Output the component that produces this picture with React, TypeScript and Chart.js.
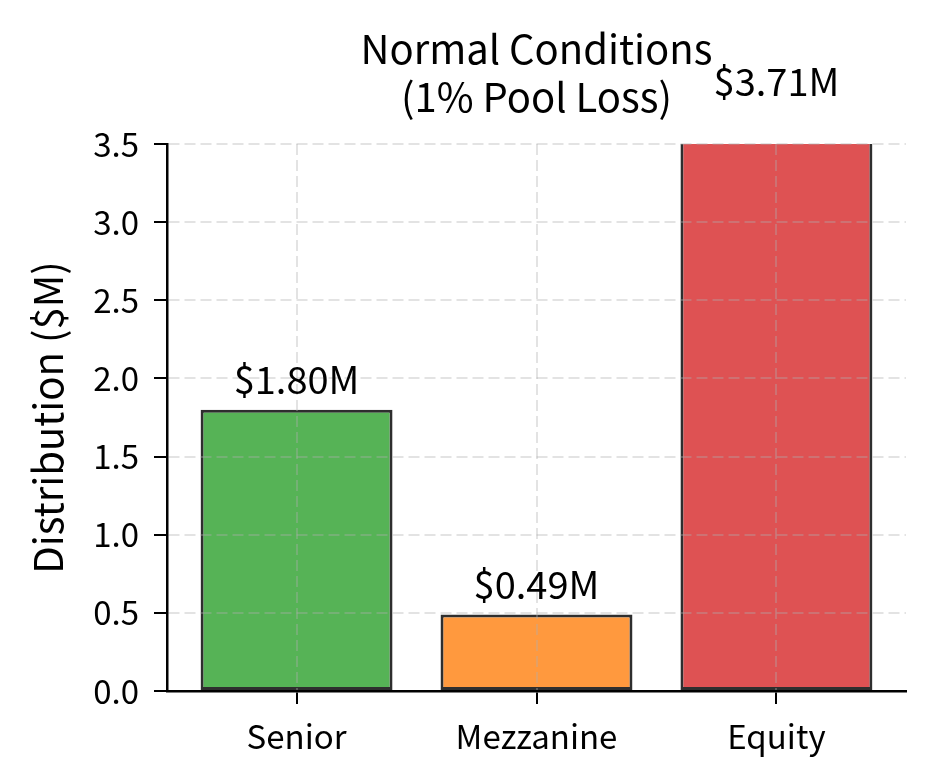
import React, { useEffect, useRef } from 'react';
import { Chart, registerables } from 'chart.js';

Chart.register(...registerables);

const FONT = '"Noto Sans CJK KR", "Noto Sans", sans-serif';

const categories = ['Senior', 'Mezzanine', 'Equity'];
const distributions = [1.8, 0.49, 3.71];
const barColors = ['#56b356', '#ff993e', '#de5253'];
const titleLines = ['Normal Conditions', '(1% Pool Loss)'];
const yAxisTitle = 'Distribution ($M)';
const yMin = 0;
const yMax = 3.5;
const yStep = 0.5;

// value labels above the bars, plus the two-line title and the y title
const annotate = {
  id: 'annotate',
  afterDraw(chart: any) {
    const { ctx, chartArea, scales } = chart;
    const meta = chart.getDatasetMeta(0);
    ctx.save();
    ctx.fillStyle = '#000';
    ctx.textAlign = 'center';
    ctx.textBaseline = 'middle';

    ctx.font = `38px ${FONT}`;
    meta.data.forEach((bar: any, i: number) => {
      const y = scales.y.getPixelForValue(distributions[i]);
      ctx.fillText(`$${distributions[i].toFixed(2)}M`, bar.x, y - 30);
    });

    const cx = (chartArea.left + chartArea.right) / 2;
    ctx.font = `40px ${FONT}`;
    ctx.fillText(titleLines[0], cx, 49);
    ctx.fillText(titleLines[1], cx, 97);

    ctx.translate(48, (chartArea.top + chartArea.bottom) / 2);
    ctx.rotate(-Math.PI / 2);
    ctx.font = `40px ${FONT}`;
    ctx.fillText(yAxisTitle, 0, 0);
    ctx.restore();
  },
};

const App: React.FC = () => {
  const canvasRef = useRef<HTMLCanvasElement | null>(null);

  useEffect(() => {
    if (!canvasRef.current) return;
    document.body.style.margin = '0';

    const gridBase = {
      color: 'rgba(176,176,176,0.35)',
      lineWidth: 2,
      z: 1,
      tickColor: '#000',
      tickLength: 13,
      tickWidth: 2,
      tickBorderDash: [],
      offset: false,
    };
    const borderBase = { display: true, color: '#000', width: 2.5, dash: [11, 5], z: 2 };

    const chart = new Chart(canvasRef.current, {
      type: 'bar',
      data: {
        datasets: [
          {
            data: distributions.map((v, i) => ({ x: i, y: v })),
            backgroundColor: barColors,
            borderColor: 'rgba(0,0,0,0.82)',
            borderWidth: 3,
            borderSkipped: false,
            barPercentage: 0.8,
            categoryPercentage: 1,
          },
        ],
      },
      options: {
        animation: false,
        responsive: true,
        maintainAspectRatio: false,
        layout: { padding: { top: 144, right: 28, bottom: 0, left: 0 } },
        plugins: {
          legend: { display: false },
          tooltip: { enabled: false },
          title: { display: false },
        },
        scales: {
          x: {
            type: 'linear',
            min: -0.54,
            max: categories.length - 1 + 0.54,
            offset: false,
            grid: gridBase,
            border: borderBase,
            afterBuildTicks: (scale: any) => {
              scale.ticks = categories.map((_, i) => ({ value: i }));
            },
            afterFit: (scale: any) => {
              scale.height = 93;
            },
            ticks: {
              color: '#000',
              padding: 13,
              autoSkip: false,
              maxRotation: 0,
              font: { family: FONT, size: 33 },
              callback: (v: any) => categories[v] ?? '',
            },
          },
          y: {
            type: 'linear',
            min: yMin,
            max: yMax,
            grid: gridBase,
            border: borderBase,
            afterFit: (scale: any) => {
              scale.width = 167;
            },
            ticks: {
              color: '#000',
              padding: 15,
              stepSize: yStep,
              font: { family: FONT, size: 33 },
              callback: (v: any) => Number(v).toFixed(1),
            },
          },
        },
      },
      plugins: [annotate],
    });

    return () => {
      chart.destroy();
    };
  }, []);

  return (
    <div style={{ width: 934, height: 784, position: 'relative', background: '#fff' }}>
      <canvas ref={canvasRef}></canvas>
    </div>
  );
};

export default App;
